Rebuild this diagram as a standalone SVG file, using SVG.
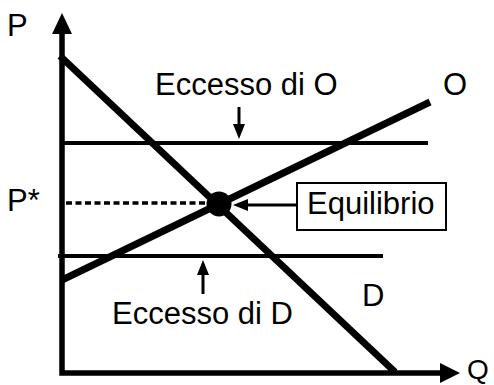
<svg xmlns="http://www.w3.org/2000/svg" width="494" height="385" viewBox="0 0 494 385">
<style>
text{font-family:"Liberation Sans",Arial,sans-serif;font-size:31px;fill:#000}
.ax{stroke:#000;stroke-width:5.5;fill:none}
.cv{stroke:#000;stroke-width:7;fill:none}
.hl{stroke:#000;stroke-width:4;fill:none}
.ar{stroke:#000;stroke-width:3;fill:none}
</style>
<rect width="494" height="385" fill="#fff"/>
<g id="axes">
<path class="ax" d="M62 30 V373 H444"/>
<polygon points="62,13 52,34 72,34"/>
<polygon points="460,373 440,363 440,383"/>
<text x="467" y="379" style="font-size:28px">Q</text>
<text x="7" y="36">P</text>
</g>
<g id="lines">
<line class="hl" x1="62" y1="143" x2="428" y2="143"/>
<line class="hl" x1="58" y1="256" x2="383" y2="256"/>
<line stroke="#000" stroke-width="3.5" stroke-dasharray="6 3.5" x1="66" y1="203" x2="208" y2="203"/>
<line class="cv" x1="60" y1="56" x2="395" y2="372"/>
<line class="cv" x1="62" y1="280" x2="430" y2="102"/>
</g>
<g id="labels">
<text x="443" y="95">O</text>
<text x="362" y="306">D</text>
<text x="7" y="211">P*</text>
</g>
<g id="equilibrium">
<circle cx="219" cy="204" r="12.5"/>
</g>
<g id="eccesso-o">
<text x="155" y="95">Eccesso di O</text>
</g>
<g id="eccesso-d">
<text x="112" y="324">Eccesso di D</text>
</g>
<g id="equilibrio-box">
<rect x="297" y="183" width="149" height="47" fill="#fff" stroke="#000" stroke-width="2"/>
<text x="307" y="214">Equilibrio</text>
</g>
<g id="connectors">
<line class="ar" x1="239" y1="107" x2="239" y2="126"/>
<polygon points="239,139 233,124 245,124"/>
<line class="ar" x1="203" y1="294" x2="203" y2="273"/>
<polygon points="203,260 197,275 209,275"/>
<line class="ar" x1="297" y1="205" x2="246" y2="205"/>
<polygon points="233,205 248,199 248,211"/>
</g>
</svg>
